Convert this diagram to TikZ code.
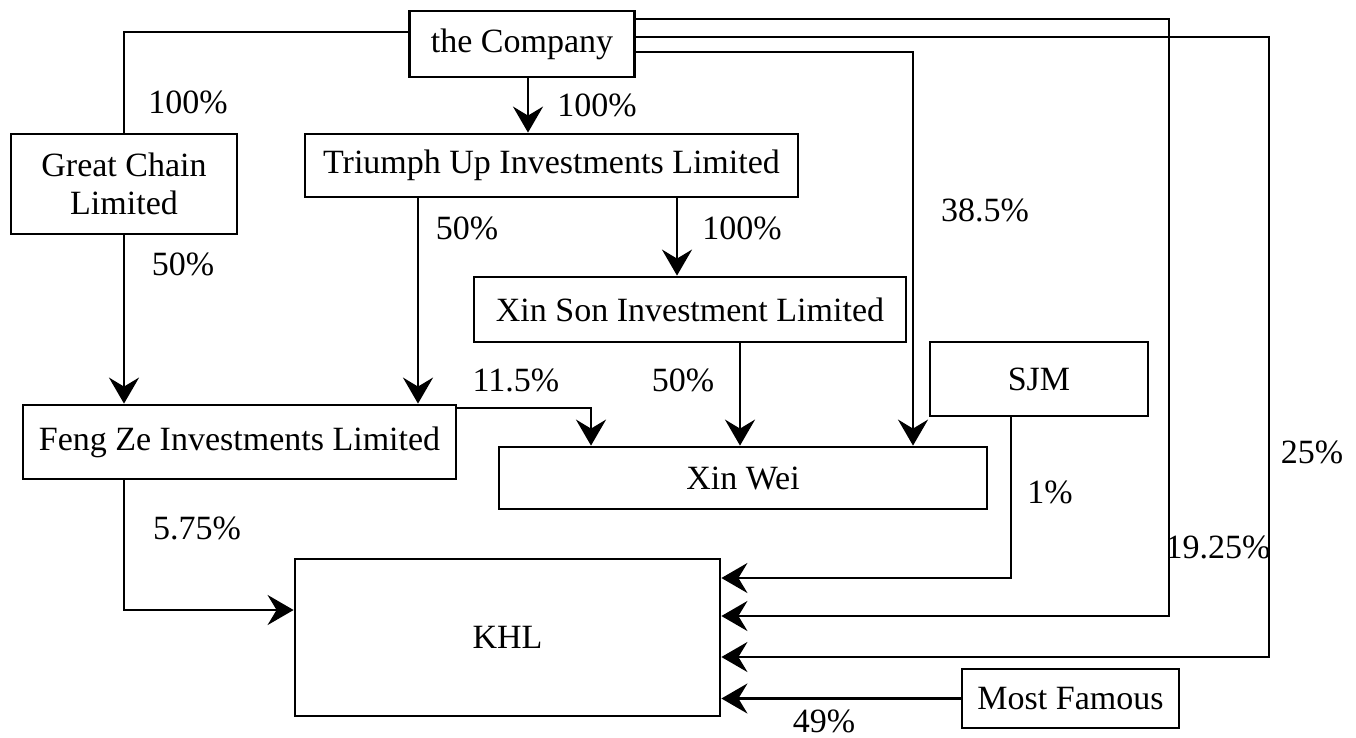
\documentclass[tikz,border=0pt]{standalone}
\usepackage{fontspec}
\setmainfont{Liberation Serif}
\usetikzlibrary{arrows.meta}
\tikzset{
  firm/.style={draw,line width=2.8pt,inner sep=0pt,align=center},
  pct/.style={inner sep=0pt}
}
\begin{document}
\begin{tikzpicture}[x=1pt,y=-1pt,line width=2.8pt,>={Stealth[length=26pt,width=30pt,inset=9pt]},
  font=\fontsize{34}{38}\selectfont]
    \useasboundingbox (0,0) rectangle (1356,737);
    % boxes
    \node[firm,minimum width=225pt,minimum height=66pt] (company) at (522,44) {the Company};
    \node[firm,minimum width=226pt,minimum height=100pt] (greatchain) at (124,184) {Great Chain\\Limited};
    \node[firm,minimum width=493pt,minimum height=63pt] (triumph) at (551.5,165.5) {Triumph Up Investments Limited};
    \node[firm,minimum width=432pt,minimum height=65pt] (xinson) at (690,309.5) {Xin Son Investment Limited};
    \node[firm,minimum width=218pt,minimum height=74pt] (sjm) at (1039,379) {SJM};
    \node[firm,minimum width=433pt,minimum height=74pt] (fengze) at (239.5,442) {Feng Ze Investments Limited};
    \node[firm,minimum width=488pt,minimum height=62pt] (xinwei) at (743,478) {Xin Wei};
    \node[firm,minimum width=425pt,minimum height=157pt] (khl) at (507.5,637.5) {KHL};
    \node[firm,minimum width=217pt,minimum height=59pt] (famous) at (1070.5,698.5) {Most Famous};
    % corners of the long lines
    \coordinate (turnA) at (1169,616);
    \coordinate (turnB) at (1269,657);
    % links
    \draw ([yshift=12pt]company.west) -| (greatchain.north);
    \draw[->] ([xshift=6pt]company.south) -- ([xshift=6pt]company.south |- triumph.north);
    \draw[->] ([yshift=-8pt]company.east) -| ([xshift=170pt]xinwei.north);
    \draw[->] ([yshift=25pt]company.east) -| (turnA) -- (turnA -| khl.east);
    \draw[->] ([yshift=7pt]company.east) -| (turnB) -- (turnB -| khl.east);
    \draw[->] (greatchain.south) -- (greatchain.south |- fengze.north);
    \draw[->] ([xshift=-133.5pt]triumph.south) -- ([xshift=-133.5pt]triumph.south |- fengze.north);
    \draw[->] ([xshift=125.5pt]triumph.south) -- ([xshift=125.5pt]triumph.south |- xinson.north);
    \draw[->] ([yshift=34pt]fengze.east) -| ([xshift=-152pt]xinwei.north);
    \draw[->] ([xshift=50pt]xinson.south) -- ([xshift=50pt]xinson.south |- xinwei.north);
    \draw[->] ([xshift=-115.5pt]fengze.south) |- ([yshift=27.5pt]khl.west);
    \draw[->] ([xshift=-28pt]sjm.south) |- ([yshift=59.5pt]khl.east);
    \draw[->] (famous.west) -- (famous.west -| khl.east);
    % shares
    \node[pct] (p1) at (188,102) {100\%};
    \node[pct] (p2) at (597,105) {100\%};
    \node[pct] (p3) at (183,264) {50\%};
    \node[pct] (p4) at (467,228) {50\%};
    \node[pct] (p5) at (742,228) {100\%};
    \node[pct] (p6) at (985,210) {38.5\%};
    \node[pct] (p7) at (516,380) {11.5\%};
    \node[pct] (p8) at (683,380) {50\%};
    \node[pct] (p9) at (197,528) {5.75\%};
    \node[pct] (p10) at (1050,492) {1\%};
    \node[pct] (p11) at (1218,547) {19.25\%};
    \node[pct] (p12) at (1312,452) {25\%};
    \node[pct] (p13) at (824,721) {49\%};
\end{tikzpicture}
\end{document}
